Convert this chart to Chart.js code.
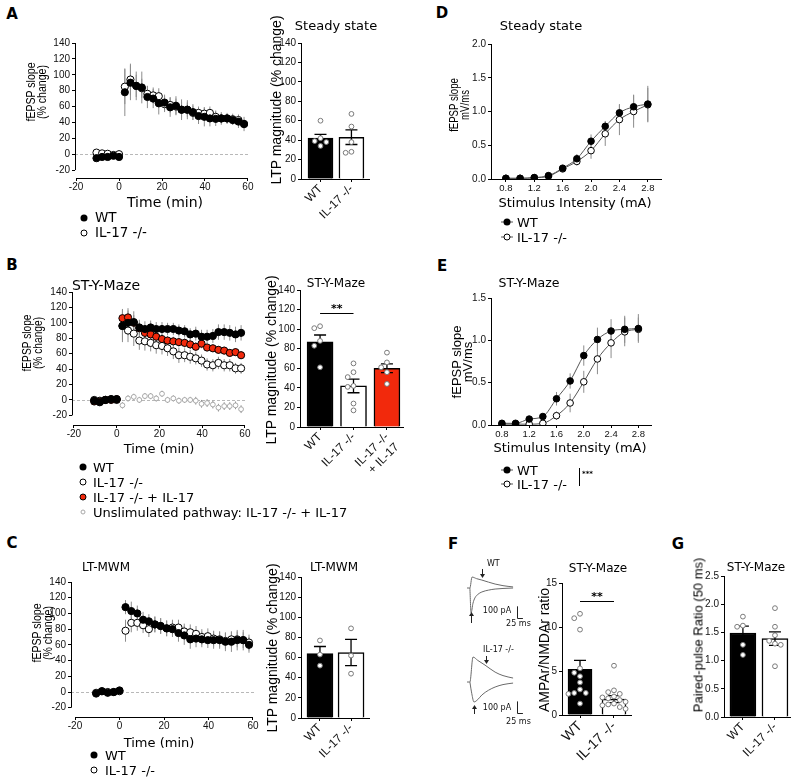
<!DOCTYPE html>
<html>
<head>
<meta charset="utf-8">
<script src="https://cdn.jsdelivr.net/npm/chart.js@4.4.1/dist/chart.umd.min.js"></script>
<style>
body { margin: 0; background: #fff; }
#fig { position: relative; width: 800px; height: 782px; overflow: hidden; background: #fff; }
.t { position: absolute; white-space: pre; line-height: 1; color: #000; font-family: 'DejaVu Sans', sans-serif; text-align: center; font-weight: normal; }
.g { position: absolute; box-sizing: border-box; border-radius: 50%; transform: translate(-50%, -50%); }
.ln { position: absolute; height: 0; border-top: 1px solid #555; transform: translate(-50%, -50%); }
</style>
</head>
<body>
<div id="fig"></div>
<script>
// time points (min) shared by the three LTP time courses
const minutes = [-10.5, -7.9, -5.3, -2.6, 0, 2.7, 5.3, 8.0, 10.6, 13.2, 15.9, 18.5, 21.2, 23.8, 26.5, 29.1, 31.8, 34.4, 37.0, 39.7, 42.3, 45.0, 47.6, 50.3, 52.9, 55.6, 58.2];

// A - steady state
const aWT = [-5, -3.5, -3.5, -2, -3.5, 78, 90, 86, 84, 72, 70, 64, 65, 59, 61, 56, 56, 53, 48, 47, 45, 44.5, 45, 45, 43, 41, 38];
const aWTsem = [2, 2, 2, 2, 2, 30, 22, 18, 20, 14, 12, 14, 10, 12, 12, 13, 12, 10, 10, 12, 10, 9, 6, 5, 6, 8, 9];
const aKO = [2, 1, 0.5, -1, 0, 85, 94, 86, 83, 76, 74, 73, 63, 62, 60, 56, 56, 52, 52, 51, 52, 47, 45, 45, 44, 43, 38];
const aKOsem = [2, 2, 2, 2, 2, 22, 20, 14, 12, 10, 10, 10, 10, 10, 10, 10, 9, 9, 8, 8, 8, 8, 8, 7, 7, 7, 6];

// B - ST-Y-Maze
const bWT = [-1, -3, 0, 1, 1, 96, 100, 101, 94, 92, 94, 92, 92, 92, 92, 90, 89, 85, 86, 82, 82, 83, 88, 88, 87, 85, 87];
const bWTsem = [2, 2, 2, 2, 2, 21, 16, 14, 10, 10, 9, 9, 9, 8, 8, 8, 8, 8, 9, 9, 9, 9, 10, 10, 10, 10, 10];
const bKO = [0, -1, 0, 1, 0, 96, 90, 86, 77, 76, 74, 71, 70, 67, 63, 58, 58, 56, 54, 51, 46, 45, 48, 45, 45, 41, 41];
const bKOsem = [2, 2, 2, 2, 2, 18, 15, 16, 12, 12, 11, 11, 11, 10, 10, 10, 9, 9, 8, 8, 8, 8, 8, 8, 8, 7, 7];
const bIL17 = [-2, -2, 0, 0, 1, 106, 107, 100, 93, 87, 85, 82, 79, 77, 76, 75, 74, 72, 69, 73, 68, 67, 65, 64, 61, 62, 58];
const bIL17sem = [2, 2, 2, 2, 2, 12, 12, 10, 8, 8, 7, 7, 7, 6, 6, 6, 6, 6, 6, 6, 5, 5, 5, 5, 5, 5, 5];
const bUnstim = [null, null, null, null, null, -7, 2, 4, 0, 5, 5, 2, 8, 0, 2, -1, 0, 0, -1, -5, -4, -6, -10, -8, -8, -7, -12];
const bUnstimSem = [null, null, null, null, null, 4, 4, 4, 4, 4, 4, 4, 4, 4, 4, 4, 4, 4, 5, 5, 5, 5, 5, 5, 5, 5, 5];

// C - LT-MWM
const cWT = [-2, 1, -1, 0, 2, 108, 103, 100, 92, 90, 86, 84, 81, 80, 75, 72, 67, 68, 67, 66, 66, 66, 64, 64, 66, 66, 60];
const cWTsem = [2, 2, 2, 2, 2, 9, 12, 10, 10, 9, 10, 10, 10, 10, 11, 12, 12, 11, 10, 10, 11, 11, 12, 13, 13, 13, 10];
const cKO = [-1, 1, 0, 0, 1, 78, 88, 88, 85, 80, 86, 84, 81, 82, 82, 77, 76, 74, 70, 71, 68, 67, 65, 67, 67, 66, 63];
const cKOsem = [2, 2, 2, 2, 2, 14, 12, 10, 10, 10, 10, 10, 10, 10, 10, 10, 10, 10, 10, 10, 10, 10, 10, 10, 10, 10, 10];

// LTP magnitude bars
const genotypes = ['WT', 'IL-17 -/-'];
const groupsB = ['WT', 'IL-17 -/-', ['IL-17 -/-', '+ IL-17']];
const aMean = [42, 43], aSem = [4, 7.5];
const aPtsWT = [60, 42, 39, 38, 34], aPtsKO = [67, 54, 38, 28, 27];
const bMean = [87, 42, 60], bSem = [7, 7, 4.5];
const bPtsWT = [103, 101, 88, 83, 61], bPtsKO = [65, 56, 51, 42, 41, 24, 17], bPtsIL17 = [76, 66, 61, 56, 44];
const cMean = [64, 65], cSem = [7, 13];
const cPtsWT = [77, 63, 52], cPtsKO = [89, 62, 44];

// D, E - input/output curves
const stimulus = [0.8, 1.0, 1.2, 1.4, 1.6, 1.8, 2.0, 2.2, 2.4, 2.6, 2.8];
const dWT = [0.01, 0.01, 0.02, 0.05, 0.16, 0.30, 0.56, 0.78, 0.98, 1.07, 1.11];
const dWTsem = [0.01, 0.01, 0.02, 0.02, 0.05, 0.07, 0.10, 0.08, 0.12, 0.18, 0.27];
const dKO = [0.01, 0.01, 0.02, 0.04, 0.15, 0.26, 0.42, 0.67, 0.88, 1.00, 1.10];
const dKOsem = [0.01, 0.01, 0.01, 0.02, 0.04, 0.06, 0.12, 0.18, 0.23, 0.24, 0.25];
const eWT = [0.02, 0.02, 0.07, 0.10, 0.31, 0.52, 0.82, 1.01, 1.11, 1.13, 1.14];
const eWTsem = [0.01, 0.01, 0.02, 0.03, 0.08, 0.09, 0.12, 0.14, 0.14, 0.16, 0.17];
const eKO = [0.01, 0.01, 0.01, 0.02, 0.11, 0.26, 0.51, 0.78, 0.97, 1.10, 1.13];
const eKOsem = [0.01, 0.01, 0.01, 0.01, 0.05, 0.11, 0.13, 0.18, 0.18, 0.17, 0.14];

// F - example currents (ms, pA) and AMPA/NMDA ratio
const wtUpT = [0, 12, 21, 40, 62, 90, 117, 150, 192];
const wtUp = [0, 0, 94, 80, 68, 50, 34, 20, 9];
const wtLowT = [12, 17, 25, 33, 45, 62, 90, 117, 150, 192];
const wtLow = [0, -214, -130, -85, -55, -34, -18, -9, -4, 0];
const koUpT = [0, 12, 25, 45, 75, 117, 150, 192];
const koUp = [0, 0, 214, 185, 145, 85, 55, 34];
const koLowT = [12, 20, 29, 45, 62, 90, 117, 150, 192];
const koLow = [0, -100, -171, -150, -111, -70, -43, -22, -9];
const fMean = [5.2, 1.8], fSem = [1.0, 0.4];
const fPtsWT = [11.5, 11.0, 9.7, 5.3, 4.8, 4.4, 3.7, 2.9, 2.5, 2.5, 2.4, 1.3];
const fPtsKO = [5.6, 2.8, 2.6, 2.4, 2.1, 1.9, 1.7, 1.5, 1.3, 1.1, 0.9, 0.7, 2.0, 1.2];

// G - paired-pulse ratio
const gMean = [1.49, 1.39], gSem = [0.12, 0.12];
const gPtsWT = [1.78, 1.62, 1.6, 1.28, 1.1], gPtsKO = [1.93, 1.6, 1.45, 1.35, 1.3, 1.28, 0.9];

const fig = document.getElementById('fig');
const ERR_GRAY = '#8c8c8c';
const TICK_FONT = {family: 'Liberation Sans', size: 10};

function pts(xs, ys) { return xs.map((x, i) => ({x: x, y: ys[i]})); }

// error bars, axis lines, dots, brackets... drawn with the chart's own scales
function drawErr(chart, top) {
    const ctx = chart.ctx, ys = chart.scales.y;
    chart.data.datasets.forEach((ds, i) => {
        if (!ds.err || !!ds.errTop !== top) return;
        const meta = chart.getDatasetMeta(i);
        ctx.strokeStyle = ds.errColor || ERR_GRAY;
        ctx.lineWidth = ds.errWidth || 1;
        meta.data.forEach((el, j) => {
            const v = ds.data[j].y, e = ds.err[j];
            if (v == null || e == null) return;
            const y1 = ys.getPixelForValue(v - e), y2 = ys.getPixelForValue(v + e);
            const cap = ds.errCap || 0;
            ctx.beginPath();
            ctx.moveTo(el.x, y1); ctx.lineTo(el.x, y2);
            if (cap) {
                ctx.moveTo(el.x - cap, y2); ctx.lineTo(el.x + cap, y2);
                ctx.moveTo(el.x - cap, y1); ctx.lineTo(el.x + cap, y1);
            }
            ctx.stroke();
        });
    });
}

const figPlugin = {
    id: 'figExtras',
    beforeDatasetsDraw(chart) {
        const o = chart.config.options.extras || {};
        const ctx = chart.ctx, ca = chart.chartArea, xs = chart.scales.x, ys = chart.scales.y;
        ctx.save();
        if (o.zero) {
            const py = Math.round(ys.getPixelForValue(0)) + 0.5;
            ctx.strokeStyle = '#b8b8b8'; ctx.lineWidth = 1; ctx.setLineDash([3, 2]);
            ctx.beginPath(); ctx.moveTo(ca.left, py); ctx.lineTo(ca.right, py); ctx.stroke();
            ctx.setLineDash([]);
        }
        if (o.axes) {
            ctx.strokeStyle = '#000'; ctx.lineWidth = 1;
            const bx = Math.round(ca.left) + 0.5, by = Math.round(ca.bottom) + 0.5;
            ctx.beginPath();
            ctx.moveTo(xs.getPixelForValue(o.axes.x[0]), by); ctx.lineTo(xs.getPixelForValue(o.axes.x[1]), by);
            ctx.moveTo(bx, ys.getPixelForValue(o.axes.y[0])); ctx.lineTo(bx, ys.getPixelForValue(o.axes.y[1]));
            ctx.stroke();
        }
        drawErr(chart, false);
        ctx.restore();
    },
    afterDatasetsDraw(chart) {
        const o = chart.config.options.extras || {};
        const ctx = chart.ctx, xs = chart.scales.x, ys = chart.scales.y;
        ctx.save();
        drawErr(chart, true);
        if (o.dots) {
            const r = 2.4, step = 2 * r + 1;
            ctx.lineWidth = 1; ctx.strokeStyle = '#7a7a7a'; ctx.fillStyle = '#fff';
            o.dots.forEach((vals, k) => {
                const cx = xs.getPixelForValue(k);
                const placed = [];
                [...vals].sort((a, b) => b - a).forEach(v => {
                    const py = ys.getPixelForValue(v);
                    let off = 0;
                    for (const m of [0, -1, 1, -2, 2, -3, 3]) {
                        off = m * step;
                        if (!placed.some(p => Math.hypot(p.x - off, p.y - py) < step)) break;
                    }
                    placed.push({x: off, y: py});
                    ctx.beginPath(); ctx.arc(cx + off, py, r, 0, Math.PI * 2); ctx.fill(); ctx.stroke();
                });
            });
        }
        if (o.sig) {
            const x1 = xs.getPixelForValue(o.sig.a), x2 = xs.getPixelForValue(o.sig.b);
            const py = Math.round(ys.getPixelForValue(o.sig.y)) + 0.5;
            ctx.strokeStyle = '#000'; ctx.lineWidth = 1.2;
            ctx.beginPath(); ctx.moveTo(x1, py); ctx.lineTo(x2, py); ctx.stroke();
            ctx.fillStyle = '#000'; ctx.font = 'bold 11px "DejaVu Sans"';
            ctx.textAlign = 'center'; ctx.textBaseline = 'bottom';
            ctx.fillText(o.sig.text, (x1 + x2) / 2, py + 1);
        }
        if (o.arrows) {
            ctx.strokeStyle = '#222'; ctx.fillStyle = '#222'; ctx.lineWidth = 1;
            o.arrows.forEach(a => {
                const px = Math.round(xs.getPixelForValue(a.x)) + 0.5;
                const p1 = ys.getPixelForValue(a.y1), p2 = ys.getPixelForValue(a.y2);
                const dir = p2 > p1 ? 1 : -1;
                ctx.beginPath(); ctx.moveTo(px, p1); ctx.lineTo(px, p2 - dir * 2); ctx.stroke();
                ctx.beginPath(); ctx.moveTo(px, p2); ctx.lineTo(px - 2.5, p2 - dir * 4); ctx.lineTo(px + 2.5, p2 - dir * 4); ctx.closePath(); ctx.fill();
            });
        }
        if (o.bar) {
            const b = o.bar;
            const px = Math.round(xs.getPixelForValue(b.x)) + 0.5, py = Math.round(ys.getPixelForValue(b.y)) + 0.5;
            ctx.strokeStyle = '#222'; ctx.lineWidth = 1;
            ctx.beginPath();
            ctx.moveTo(px, ys.getPixelForValue(b.y + b.dy)); ctx.lineTo(px, py); ctx.lineTo(xs.getPixelForValue(b.x + b.dx), py);
            ctx.stroke();
        }
        if (o.texts) {
            ctx.fillStyle = '#111'; ctx.font = '8px "DejaVu Sans"'; ctx.textBaseline = 'middle';
            o.texts.forEach(t => {
                ctx.textAlign = t.align;
                ctx.fillText(t.s, xs.getPixelForValue(t.x), ys.getPixelForValue(t.y));
            });
        }
        ctx.restore();
    }
};
Chart.register(figPlugin);

function axis(min, max, ticks, fmt, extra) {
    const a = {
        type: 'linear', min: min, max: max, offset: false,
        afterBuildTicks: s => { s.ticks = ticks.map(v => ({value: v})); },
        border: {display: false},
        grid: {drawOnChartArea: false, drawTicks: true, offset: false, tickLength: 3, tickColor: '#000', tickWidth: 1},
        ticks: {color: '#111', font: TICK_FONT, padding: 2, autoSkip: false, maxRotation: 0, minRotation: 0, callback: fmt}
    };
    if (extra) Object.assign(a.ticks, extra);
    return a;
}

function addChart(box, area, config) {
    const [bx, by, bw, bh] = box;
    const [l, t, r, b] = area;
    const wrap = document.createElement('div');
    wrap.style.cssText = `position:absolute;left:${bx}px;top:${by}px;width:${bw}px;height:${bh}px;`;
    const cv = document.createElement('canvas');
    wrap.appendChild(cv);
    fig.appendChild(wrap);
    const o = config.options;
    const xShown = o.scales.x.display !== false, yShown = o.scales.y.display !== false;
    o.responsive = true;
    o.maintainAspectRatio = false;
    o.animation = false;
    o.events = [];
    o.layout = {padding: {left: yShown ? 0 : l - bx, top: t - by, right: bx + bw - r, bottom: xShown ? 0 : by + bh - b}};
    if (yShown) o.scales.y.afterFit = s => { s.width = l - bx; };
    if (xShown) o.scales.x.afterFit = s => { s.height = by + bh - b; };
    o.plugins = {legend: {display: false}, tooltip: {enabled: false}};
    return new Chart(cv, config);
}

const filled = {pointBackgroundColor: '#000', pointBorderColor: '#000'};
const open = {pointBackgroundColor: '#fff', pointBorderColor: '#000'};
const red = {pointBackgroundColor: '#f2290c', pointBorderColor: '#000'};
const faint = {pointBackgroundColor: '#fff', pointBorderColor: '#a8a8a8', pointRadius: 2.4};

function series(xs, ys, err, style) {
    return Object.assign({data: pts(xs, ys), err: err, errColor: ERR_GRAY, pointRadius: 3.6, pointBorderWidth: 1}, style);
}

function timeCourse(box, area, xr, yr, sets) {
    return addChart(box, area, {
        type: 'scatter',
        data: {datasets: sets},
        options: {
            scales: {
                x: axis(xr[0], xr[1], [-20, 0, 20, 40, 60], v => String(v), {padding: 0}),
                y: axis(yr[0], 140, [-20, 0, 20, 40, 60, 80, 100, 120, 140], v => String(v))
            },
            extras: {zero: true, axes: {x: [-20, 60], y: [-20, 140]}}
        }
    });
}

function barChart(box, area, xr, y, names, means, sems, colors, dots, thick, labelSize, sig) {
    return addChart(box, area, {
        type: 'bar',
        data: {datasets: [{
            data: pts(names.map((n, i) => i), means),
            backgroundColor: colors, borderColor: '#000', borderWidth: 1.5, barThickness: thick,
            err: sems, errColor: '#000', errCap: 6, errTop: true, errWidth: 1.3
        }]},
        options: {
            scales: {
                x: axis(xr[0], xr[1], names.map((n, i) => i), v => names[v],
                        {minRotation: 45, maxRotation: 45, padding: 0, font: {family: 'Liberation Sans', size: labelSize}}),
                y: axis(0, y.max, y.ticks, y.fmt)
            },
            extras: {axes: {x: xr, y: [0, y.max]}, dots: dots, sig: sig}
        }
    });
}

function ioCurve(box, area, xmin, ymax, yticks, wt, wtSem, ko, koSem) {
    const line = {showLine: true, borderColor: '#555', borderWidth: 1, cubicInterpolationMode: 'monotone'};
    return addChart(box, area, {
        type: 'scatter',
        data: {datasets: [
            Object.assign(series(stimulus, wt, wtSem, filled), line, {pointRadius: 3.3}),
            Object.assign(series(stimulus, ko, koSem, open), line, {pointRadius: 3.3})
        ]},
        options: {
            scales: {
                x: axis(xmin, 3.0, [0.8, 1.2, 1.6, 2.0, 2.4, 2.8], v => v.toFixed(1), {padding: 1, font: {family: 'Liberation Sans', size: 9.5}}),
                y: axis(0, ymax, yticks, v => v.toFixed(1))
            },
            extras: {axes: {x: [xmin, 3.0], y: [0, ymax]}}
        }
    });
}

function trace(box, area, ymin, ymax, up, low, extras) {
    const line = {showLine: true, borderColor: '#6a6a6a', borderWidth: 1, pointRadius: 0, cubicInterpolationMode: 'monotone'};
    return addChart(box, area, {
        type: 'scatter',
        data: {datasets: [Object.assign({data: up}, line), Object.assign({data: low}, line)]},
        options: {
            scales: {x: {type: 'linear', display: false, min: 0, max: 325}, y: {type: 'linear', display: false, min: ymin, max: ymax}},
            extras: extras
        }
    });
}

// ---- A ----
timeCourse([30, 25, 234, 175], [75, 43, 249, 178], [-20.5, 60.5], [-30], [
    series(minutes, aWT, aWTsem, filled),
    series(minutes, aKO, aKOsem, open)
]);
const pctTicks = {max: 140, ticks: [0, 20, 40, 60, 80, 100, 120, 140], fmt: v => String(v)};
barChart([276, 28, 106, 206], [301, 43, 370, 179], [-0.63, 1.6], pctTicks, genotypes, aMean, aSem,
         ['#000', '#fff'], [aPtsWT, aPtsKO], 25, 12);

// ---- B ----
timeCourse([28, 272, 233, 175], [72, 292, 246, 425], [-20.9, 60.5], [-32.5], [
    series(minutes, bWT, bWTsem, filled),
    series(minutes, bIL17, bIL17sem, red),
    series(minutes, bKO, bKOsem, open),
    series(minutes, bUnstim, bUnstimSem, faint)
]);
barChart([275, 272, 142, 220], [300, 290, 404, 427], [-0.6, 2.51], pctTicks, groupsB, bMean, bSem,
         ['#000', '#fff', '#f2290c'], [bPtsWT, bPtsKO, bPtsIL17], 26, 12, {a: 0, b: 1, y: 117, text: '**'});

// ---- C ----
timeCourse([28, 562, 241, 177], [71, 582, 254, 717], [-21.8, 60.45], [-31.8], [
    series(minutes, cWT, cWTsem, filled),
    series(minutes, cKO, cKOsem, open)
]);
barChart([276, 560, 106, 222], [301, 577, 370, 718], [-0.61, 1.61], pctTicks, genotypes, cMean, cSem,
         ['#000', '#fff'], [cPtsWT, cPtsKO], 26, 12);

// ---- D, E ----
ioCurve([462, 26, 215, 172], [491, 44, 662, 179], 0.59, 2.0, [0, 0.5, 1.0, 1.5, 2.0], dWT, dWTsem, dKO, dKOsem);
ioCurve([462, 280, 205, 167], [491, 298, 652, 425], 0.64, 1.5, [0, 0.5, 1.0, 1.5], eWT, eWTsem, eKO, eKOsem);

// ---- F ----
trace([460, 555, 90, 80], [467, 560, 545, 630], -360, 240, pts(wtUpT, wtUp), pts(wtLowT, wtLow), {
    arrows: [{x: 62, y1: 163, y2: 86}, {x: 17, y1: -300, y2: -206}],
    bar: {x: 208, y: -257, dx: 25, dy: 100},
    texts: [{x: 83, y: 206, s: 'WT', align: 'left'}, {x: 184, y: -197, s: '100 pA', align: 'right'},
            {x: 163, y: -309, s: '25 ms', align: 'left'}]
});
trace([460, 635, 90, 100], [467, 640, 545, 730], -411, 360, pts(koUpT, koUp), pts(koLowT, koLow), {
    arrows: [{x: 79, y1: 223, y2: 154}, {x: 29, y1: -274, y2: -197}],
    bar: {x: 208, y: -266, dx: 25, dy: 100},
    texts: [{x: 67, y: 274, s: 'IL-17 -/-', align: 'left'}, {x: 184, y: -223, s: '100 pA', align: 'right'},
            {x: 163, y: -343, s: '25 ms', align: 'left'}]
});
barChart([545, 565, 99, 217], [562, 583, 632, 715], [-0.53, 1.53],
         {max: 15, ticks: [0, 5, 10, 15], fmt: v => String(v)}, genotypes, fMean, fSem,
         ['#000', '#fff'], [fPtsWT, fPtsKO], 24, 14, {a: 0, b: 1, y: 12.9, text: '**'});

// ---- G ----
barChart([704, 558, 96, 224], [724, 576, 791, 717], [-0.59, 1.5],
         {max: 2.5, ticks: [0, 0.5, 1.0, 1.5, 2.0, 2.5], fmt: v => v.toFixed(1)}, genotypes, gMean, gSem,
         ['#000', '#fff'], [gPtsWT, gPtsKO], 26, 12);

// ---- texts ----
function text(x, y, s, size, o) {
    o = o || {};
    const d = document.createElement('div');
    d.className = 't';
    d.textContent = s;
    d.style.left = x + 'px';
    d.style.top = y + 'px';
    d.style.fontSize = size + 'px';
    if (o.font) d.style.fontFamily = o.font;
    if (o.bold) d.style.fontWeight = 'bold';
    if (o.lh) d.style.lineHeight = o.lh + 'px';
    let tf = o.left ? 'translate(0,-50%)' : 'translate(-50%,-50%)';
    if (o.rot) tf += ` rotate(-90deg) scaleX(${o.sx || 1})`;
    d.style.transform = tf;
    fig.appendChild(d);
}
const ARIAL = "'Liberation Sans', Arial, sans-serif";

[['A', 12, 14], ['B', 12, 265], ['C', 12, 543], ['D', 442, 13], ['E', 442, 266], ['F', 453, 544], ['G', 678, 544]]
    .forEach(p => text(p[1], p[2], p[0], 15, {bold: true}));

text(336, 25, 'Steady state', 13);
text(106, 285, 'ST-Y-Maze', 14);
text(336, 283, 'ST-Y-Maze', 12);
text(106, 567, 'LT-MWM', 12);
text(334, 567, 'LT-MWM', 12);
text(541, 25, 'Steady state', 13);
text(529, 283, 'ST-Y-Maze', 12.5);
text(598, 568, 'ST-Y-Maze', 12);
text(756, 567, 'ST-Y-Maze', 12);

text(165, 202, 'Time (min)', 14);
text(159, 448, 'Time (min)', 13);
text(159, 742, 'Time (min)', 13);
text(575, 202, 'Stimulus Intensity (mA)', 13);
text(570, 447, 'Stimulus Intensity (mA)', 13);

text(37, 92, 'fEPSP slope\n(% change)', 12, {font: ARIAL, rot: true, sx: 0.88, lh: 11});
text(33, 343, 'fEPSP slope\n(% change)', 12, {font: ARIAL, rot: true, sx: 0.85, lh: 11});
text(43, 633, 'fEPSP slope\n(% change)', 12, {font: ARIAL, rot: true, sx: 0.88, lh: 11});
text(460, 105, 'fEPSP slope\nmV/ms', 12, {font: ARIAL, rot: true, sx: 0.8, lh: 11});
text(462, 362, 'fEPSP slope\nmV/ms', 13, {font: ARIAL, rot: true, lh: 11});
text(276, 100, 'LTP magnitude (% change)', 14, {font: ARIAL, rot: true});
text(271, 360, 'LTP magnitude (% change)', 14, {font: ARIAL, rot: true});
text(272, 648, 'LTP magnitude (% change)', 14, {font: ARIAL, rot: true});
text(544, 650, 'AMPAr/NMDAr ratio', 14, {font: ARIAL, rot: true});
text(698, 635, 'Paired-pulse Ratio (50 ms)', 13, {font: ARIAL, rot: true});

// legends
const glyphs = {
    fill: 'width:7px;height:7px;background:#000;',
    open: 'width:7px;height:7px;background:#fff;border:1px solid #000;',
    red: 'width:7px;height:7px;background:#f2290c;border:1px solid #000;',
    faint: 'width:5px;height:5px;background:#fff;border:1px solid #a8a8a8;'
};
function legendRow(gx, tx, y, s, kind, size, withLine) {
    if (withLine) {
        const l = document.createElement('div');
        l.className = 'ln';
        l.style.cssText += `left:${gx}px;top:${y}px;width:12px;`;
        fig.appendChild(l);
    }
    const g = document.createElement('div');
    g.className = 'g';
    g.style.cssText += `left:${gx}px;top:${y}px;` + glyphs[kind];
    fig.appendChild(g);
    text(tx, y, s, size, {left: true});
}
legendRow(84, 95, 218, 'WT', 'fill', 13.5);
legendRow(84, 95, 233, 'IL-17 -/-', 'open', 13.5);
legendRow(83, 93, 467, 'WT', 'fill', 13);
legendRow(83, 93, 482, 'IL-17 -/-', 'open', 13);
legendRow(83, 93, 497, 'IL-17 -/- + IL-17', 'red', 13);
legendRow(83, 93, 512, 'Unslimulated pathway: IL-17 -/- + IL-17', 'faint', 13);
legendRow(94, 105, 755, 'WT', 'fill', 13);
legendRow(94, 105, 770, 'IL-17 -/-', 'open', 13);
legendRow(507, 517, 222, 'WT', 'fill', 13, true);
legendRow(507, 517, 237, 'IL-17 -/-', 'open', 13, true);
legendRow(507, 517, 470, 'WT', 'fill', 13, true);
legendRow(507, 517, 484, 'IL-17 -/-', 'open', 13, true);

const brk = document.createElement('div');
brk.style.cssText = 'position:absolute;left:579px;top:468px;width:0;height:18px;border-left:1px solid #000;';
fig.appendChild(brk);
text(582, 474, '***', 7, {left: true, bold: true});
</script>
</body>
</html>
